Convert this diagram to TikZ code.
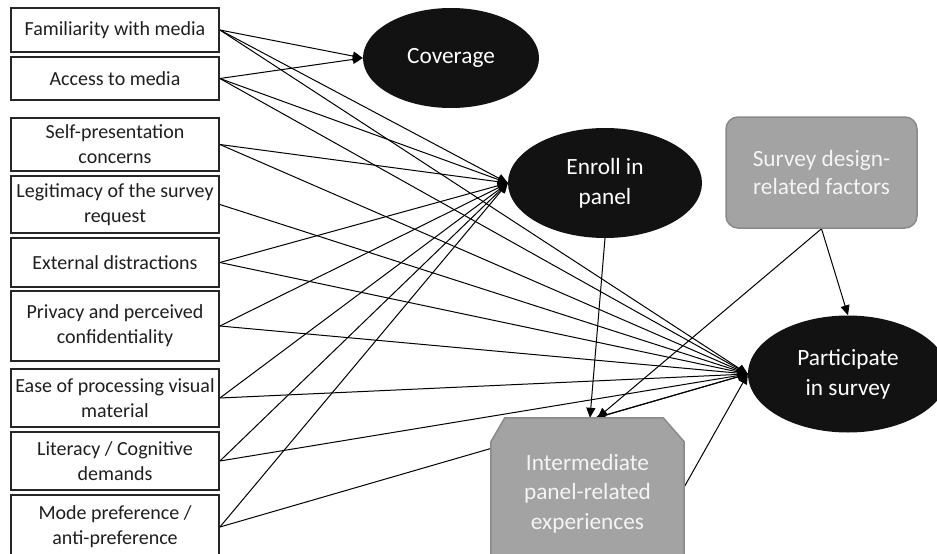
\documentclass[tikz,border=0pt]{standalone}
\usepackage{fontspec}
\setmainfont{Carlito}
\usetikzlibrary{arrows.meta,shapes.geometric}
\definecolor{boxline}{HTML}{262626}
\definecolor{grayfill}{HTML}{A3A3A3}
\definecolor{grayline}{HTML}{8A8A8A}
\definecolor{ellfill}{HTML}{121212}
\definecolor{lighttext}{HTML}{F4F4F4}
\pgfdeclarelayer{edges}
\pgfdeclarelayer{plate}
\pgfsetlayers{edges,plate,main}
\begin{document}
\begin{tikzpicture}[x=1pt,y=-1pt,
  factor/.style={draw=boxline, line width=1.8pt, fill=white, inner sep=0pt,
    align=center, font=\fontsize{20}{25}\selectfont, text=black!88,
    minimum width=208pt},
  outcome/.style={ellipse, fill=ellfill, inner sep=0pt, align=center,
    text=white, font=\fontsize{23.3}{30}\selectfont},
  graybox/.style={fill=grayfill, draw=grayline, line width=1.5pt, inner sep=0pt,
    align=center, text=lighttext, font=\fontsize{23.3}{28}\selectfont},
  graytext/.style={inner sep=0pt, align=center, text=lighttext,
    font=\fontsize{23.3}{29.5}\selectfont},
  link/.style={line width=1pt, -{Triangle[length=10pt,width=9pt]}}
]
\useasboundingbox (0,0) rectangle (937,554);
\clip (0,0) rectangle (937,554);

% left factors
\node[factor, minimum height=44pt] (F)  at (115,30)    {Familiarity with media};
\node[factor, minimum height=43pt] (A)  at (115,78.5)  {Access to media};
\node[factor, minimum height=53pt] (S)  at (115,144.5) {Self-presentation\\concerns};
\node[factor, minimum height=57pt] (L)  at (115,204.5) {Legitimacy of the survey\\request};
\node[factor, minimum height=49pt] (X)  at (115,262.5) {External distractions};
\node[factor, minimum height=70pt] (Pr) at (115,326)   {Privacy and perceived\\confidentiality};
\node[factor, minimum height=58pt] (Ea) at (115,398)   {Ease of processing visual\\material};
\node[factor, minimum height=58pt] (Li) at (115,461)   {Literacy / Cognitive\\demands};
\node[factor, minimum height=64pt] (M)  at (115,527)   {Mode preference /\\anti-preference};

% outcomes
\node[outcome, minimum width=176pt, minimum height=100pt] (C) at (451,58) {Coverage};
\node[outcome, minimum width=194pt, minimum height=110pt] (E) at (605,183) {Enroll in\\panel};
\node[outcome, minimum width=200pt, minimum height=117pt] (P) at (848,374) {Participate\\in survey};

% gray boxes
\node[graybox, rounded corners=12pt, minimum width=191pt, minimum height=111pt]
  (SD) at (821.5,172.5) {Survey design-\\related factors};
\node[inner sep=0pt, minimum width=193pt, minimum height=138pt] (I) at (587.5,487) {};
\node[graytext] (IT) at (587.5,493.5) {Intermediate\\panel-related\\experiences};

\begin{pgfonlayer}{plate}
  \filldraw[fill=grayfill, draw=grayline, line width=1.5pt]
    ([yshift=-24pt]I.north west) -- ([xshift=14pt]I.north west)
    -- ([xshift=-21pt]I.north east) -- ([yshift=-24pt]I.north east)
    -- (I.south east) -- (I.south west) -- cycle;
\end{pgfonlayer}

\begin{pgfonlayer}{edges}
  \draw[link] (F.east) -- (C.west);
  \draw[link] (A.east) -- (C.west);
  \foreach \s in {F,A,S,X,Pr,Ea,Li,M} {\draw[link] (\s.east) -- (E.west);}
  \foreach \s in {F,A,S,L,X,Pr,Ea,Li,M} {\draw[link] (\s.east) -- (P.west);}
  \draw[link] (I.east) -- (P.west);
  \draw[link] (P.west) -- ([xshift=8pt]I.north);
  \draw[link] (E.south) -- ([xshift=2.5pt]I.north);
  \draw[link] (SD.south) -- ([xshift=10pt]I.north);
  \draw[link] (SD.south) -- (P.north);
\end{pgfonlayer}
\end{tikzpicture}
\end{document}
